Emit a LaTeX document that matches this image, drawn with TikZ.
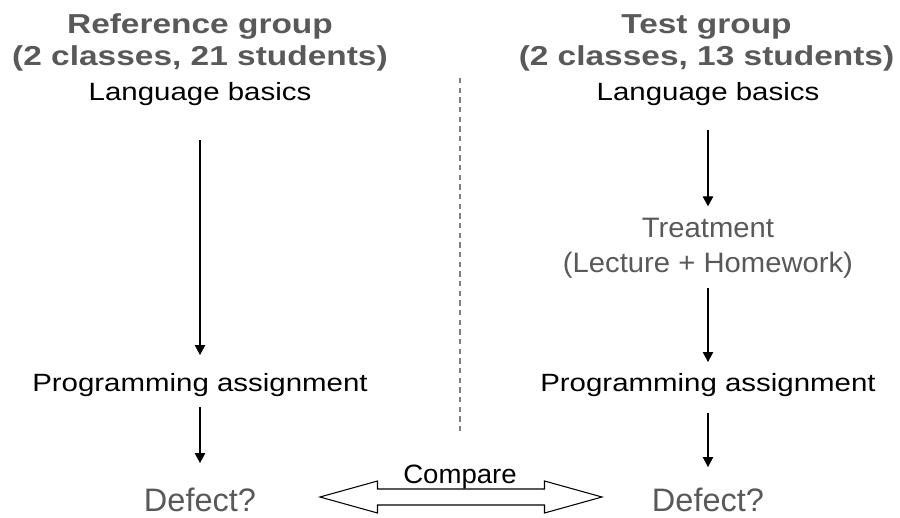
\documentclass[tikz,border=0pt]{standalone}
\usepackage{fontspec}
\usepackage{tikz}
\usepackage{xcolor}
\usetikzlibrary{arrows.meta}
\setmainfont{Liberation Sans}
\newfontfamily\headfont[FakeStretch=1.22]{Liberation Sans}
\newfontfamily\bodyfont[FakeStretch=1.18]{Liberation Sans}
\newfontfamily\treatfont[FakeStretch=1.04]{Liberation Sans}
\definecolor{textogris}{HTML}{595959}

\begin{document}
\begin{tikzpicture}[
			 titulo/.style={anchor=base, inner sep=0pt, align=center, text=textogris, font=\headfont\bfseries\fontsize{15.6}{18.2}\selectfont},
			 paso/.style={anchor=base, inner sep=0pt, font=\bodyfont\fontsize{14.2}{17}\selectfont},
			 defecto/.style={anchor=base, inner sep=0pt, text=textogris, font=\fontsize{18.5}{22}\selectfont},
			 flecha/.style={-{Triangle[length=2mm,width=2.1mm]}, line width=0.6pt}
  		]
	\useasboundingbox (0,0) rectangle (18,-10.36);

	%Titulos de los grupos
		\node[titulo] (gref) at (4.0,-1.30) {Reference group\\(2 classes, 21 students)};
		\node[titulo] (gtest) at (14.13,-1.30) {Test group\\(2 classes, 13 students)};

	%Grupo de referencia
		\node[paso] (lb1) at (4.0,-2.0) {Language basics};
		\node[paso] (pa1) at (4.0,-7.82) {Programming assignment};
		\node[defecto] (d1) at (4.0,-10.22) {Defect?};

	%Grupo de prueba
		\node[paso] (lb2) at (14.16,-2.0) {Language basics};
		\node[anchor=base, inner sep=0pt, align=center, text=textogris, font=\treatfont\fontsize{16}{19.9}\selectfont] (tr2) at (14.16,-5.44) {Treatment\\(Lecture + Homework)};
		\node[paso] (pa2) at (14.16,-7.82) {Programming assignment};
		\node[defecto] (d2) at (14.16,-10.22) {Defect?};

	%Flechas
		\draw[flecha, shorten <=0.8cm, shorten >=0.72cm] (lb1.base) -- (pa1.base);
		\draw[flecha, shorten <=0.32cm, shorten >=0.96cm] (pa1.base) -- (d1.base);
		\draw[flecha, shorten <=0.6cm, shorten >=0.22cm] (lb2.base) -- (tr2.north);
		\draw[flecha, shorten <=0.2cm, shorten >=0.58cm] (tr2.south) -- (pa2.base);
		\draw[flecha, shorten <=0.44cm, shorten >=0.88cm] (pa2.base) -- (d2.base);

	%Linea que separa
	\draw[color=gray, line width=0.6pt, dash pattern=on 3pt off 2.5pt] (9.2,-1.56) -- (9.2,-8.64);

	%Comparar
		\coordinate (cmp) at (9.22,-9.94);
		\node[anchor=base, inner sep=0pt, font=\treatfont\fontsize{15.1}{18}\selectfont] (comp) at (9.2,-9.66) {Compare};
		\draw[line width=0.6pt] (cmp) ++(-2.82,0) -- ++(1.15,0.32) -- ++(0,-0.16) -- ++(3.34,0) -- ++(0,0.16) -- ++(1.15,-0.32) -- ++(-1.15,-0.32) -- ++(0,0.16) -- ++(-3.34,0) -- ++(0,-0.16) -- cycle;
	\end{tikzpicture}
\end{document}
